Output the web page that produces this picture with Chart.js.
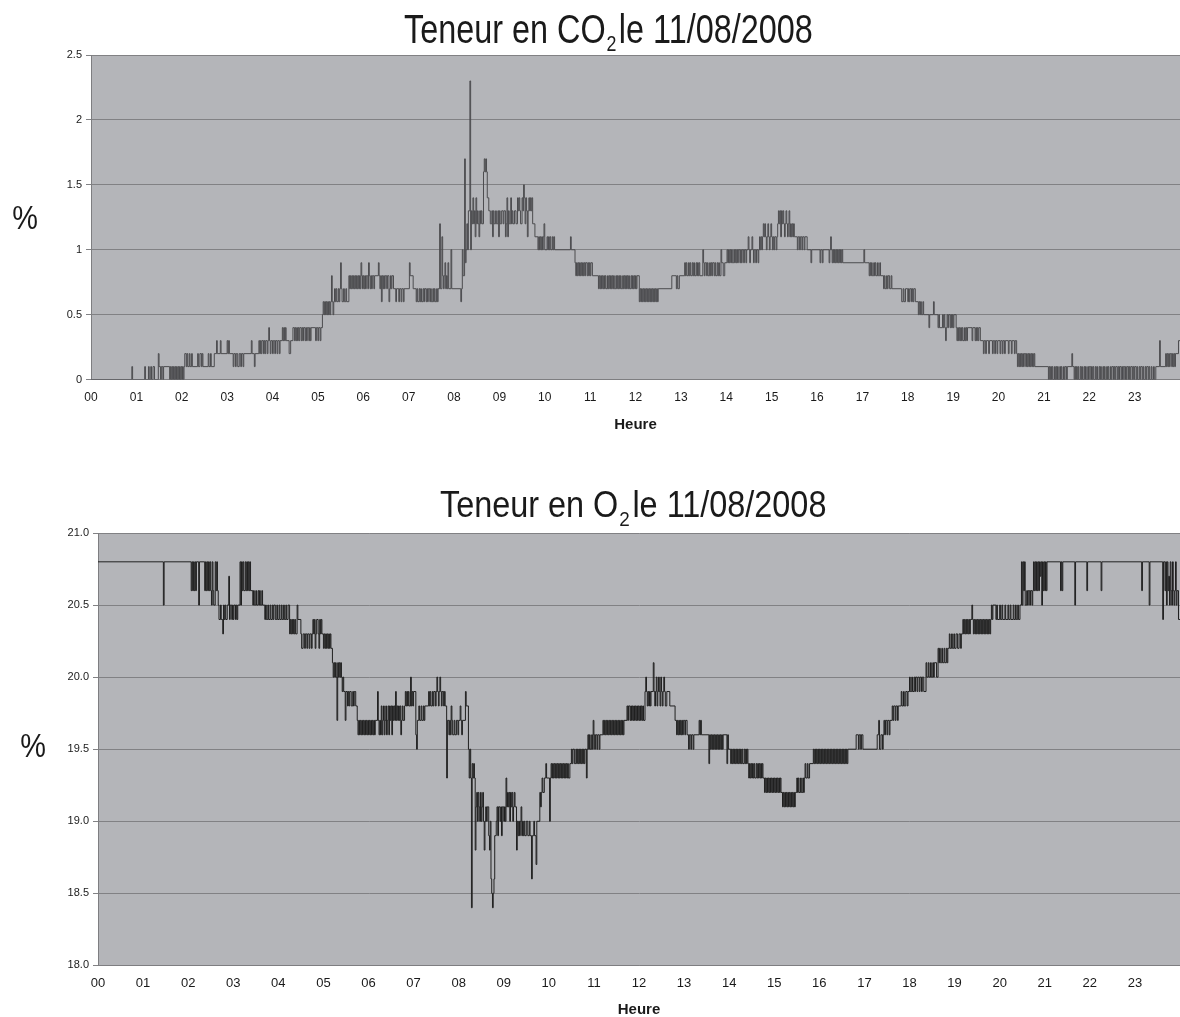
<!DOCTYPE html>
<html>
<head>
<meta charset="utf-8">
<script src="https://cdn.jsdelivr.net/npm/chart.js@4.4.1/dist/chart.umd.min.js"></script>
<style>
html,body{margin:0;padding:0;background:#ffffff;width:1180px;height:1017px;overflow:hidden;}
#w1{position:absolute;left:0;top:0;width:1180px;height:450px;}
#w2{position:absolute;left:0;top:450px;width:1180px;height:570px;}
</style>
</head>
<body>
<div id="w1"><canvas id="c1"></canvas></div>
<div id="w2"><canvas id="c2"></canvas></div>
<script>
// ---- tick labels ----
const hourLabels = ['00','01','02','03','04','05','06','07','08','09','10','11','12','13','14','15','16','17','18','19','20','21','22','23'];
const co2TickValues = [0, 0.5, 1, 1.5, 2, 2.5];
const co2TickLabels = ['0', '0.5', '1', '1.5', '2', '2.5'];
const o2TickValues = [18, 18.5, 19, 19.5, 20, 20.5, 21];
const o2TickLabels = ['18.0', '18.5', '19.0', '19.5', '20.0', '20.5', '21.0'];

// ---- readings: [minute of the day, value %] (value holds until next reading) ----
const co2Readings = [[0,0],[54,0.1],[55,0],[71,0.1],[72,0],[76,0.1],[77,0],[79,0.1],[80,0],[82,0.1],[84,0],[89,0.2],[90,0.1],[92,0],[93,0.1],[95,0],[96,0.1],[104,0],[105,0.1],[106,0],[107,0.1],[108,0],[109,0.1],[110,0],[111,0.1],[112,0],[113,0.1],[114,0],[115,0.1],[116,0],[117,0.1],[118,0],[119,0.1],[120,0],[121,0.1],[122,0],[123,0.1],[124,0.2],[126,0.1],[127,0.2],[128,0.1],[130,0.2],[131,0.1],[133,0.2],[134,0.1],[141,0.2],[142,0.1],[144,0.2],[146,0.1],[147,0.2],[148,0.1],[155,0.2],[156,0.1],[158,0.2],[159,0.1],[163,0.2],[166,0.3],[167,0.2],[171,0.3],[172,0.2],[180,0.3],[181,0.2],[182,0.3],[183,0.2],[188,0.1],[189,0.2],[191,0.1],[192,0.2],[194,0.1],[196,0.2],[198,0.1],[199,0.2],[201,0.1],[202,0.2],[212,0.3],[213,0.2],[216,0.1],[217,0.2],[222,0.3],[223,0.2],[224,0.3],[225,0.2],[226,0.3],[228,0.2],[229,0.3],[230,0.2],[231,0.3],[233,0.2],[234,0.3],[235,0.4],[236,0.3],[237,0.2],[238,0.3],[240,0.2],[241,0.3],[243,0.2],[244,0.3],[246,0.2],[247,0.3],[249,0.2],[250,0.3],[253,0.4],[254,0.3],[255,0.4],[256,0.3],[257,0.4],[258,0.3],[262,0.2],[264,0.3],[267,0.4],[269,0.3],[270,0.4],[271,0.3],[272,0.4],[273,0.3],[274,0.4],[275,0.3],[276,0.4],[278,0.3],[279,0.4],[280,0.3],[281,0.4],[283,0.3],[284,0.4],[285,0.3],[286,0.4],[288,0.3],[289,0.4],[290,0.3],[291,0.4],[297,0.3],[298,0.4],[300,0.3],[301,0.4],[303,0.3],[304,0.4],[306,0.5],[307,0.6],[308,0.5],[309,0.6],[310,0.5],[311,0.6],[312,0.5],[313,0.6],[314,0.5],[315,0.6],[316,0.5],[317,0.6],[318,0.8],[319,0.6],[320,0.5],[321,0.6],[322,0.7],[323,0.6],[324,0.7],[325,0.6],[327,0.7],[328,0.6],[329,0.7],[330,0.9],[331,0.7],[332,0.6],[334,0.7],[335,0.6],[337,0.7],[338,0.6],[341,0.8],[342,0.7],[343,0.8],[344,0.7],[345,0.8],[346,0.7],[347,0.8],[348,0.7],[349,0.8],[350,0.7],[351,0.8],[352,0.7],[353,0.8],[354,0.7],[355,0.8],[356,0.7],[357,0.9],[358,0.8],[359,0.7],[360,0.8],[361,0.7],[362,0.8],[363,0.7],[364,0.8],[366,0.7],[367,0.9],[368,0.8],[369,0.7],[370,0.8],[371,0.7],[372,0.8],[374,0.7],[375,0.8],[380,0.9],[381,0.8],[382,0.7],[383,0.8],[384,0.6],[385,0.8],[386,0.7],[387,0.8],[388,0.7],[389,0.8],[391,0.7],[392,0.8],[394,0.6],[395,0.7],[396,0.8],[397,0.7],[398,0.8],[400,0.7],[403,0.6],[404,0.7],[407,0.6],[408,0.7],[410,0.6],[411,0.7],[413,0.6],[414,0.7],[421,0.9],[422,0.8],[426,0.7],[430,0.6],[431,0.7],[432,0.6],[434,0.7],[435,0.6],[436,0.7],[437,0.6],[439,0.7],[440,0.6],[441,0.7],[443,0.6],[444,0.7],[445,0.6],[446,0.7],[448,0.6],[449,0.7],[450,0.6],[452,0.7],[453,0.6],[454,0.7],[455,0.6],[457,0.7],[458,0.6],[459,0.7],[461,1.2],[462,0.7],[464,1.1],[465,0.8],[466,0.7],[467,0.8],[468,0.9],[469,0.7],[470,0.8],[471,0.7],[472,0.9],[473,0.7],[476,1.0],[477,0.7],[489,0.6],[490,0.7],[491,1.0],[492,0.8],[494,1.7],[495,0.9],[496,1.0],[497,1.2],[498,1.0],[499,1.3],[501,2.3],[502,1.0],[503,1.3],[504,1.2],[505,1.4],[506,1.2],[507,1.3],[508,1.1],[509,1.4],[510,1.2],[511,1.3],[512,1.2],[513,1.1],[514,1.3],[515,1.2],[516,1.3],[517,1.2],[519,1.6],[520,1.7],[521,1.6],[522,1.7],[523,1.6],[524,1.4],[526,1.3],[528,1.2],[530,1.3],[531,1.1],[532,1.3],[533,1.2],[535,1.3],[536,1.2],[538,1.3],[539,1.1],[540,1.3],[541,1.2],[543,1.3],[545,1.2],[546,1.3],[548,1.1],[549,1.2],[550,1.4],[551,1.1],[552,1.3],[553,1.2],[555,1.4],[556,1.2],[557,1.3],[558,1.2],[560,1.3],[562,1.2],[564,1.4],[565,1.3],[566,1.4],[567,1.3],[568,1.2],[570,1.4],[571,1.3],[572,1.5],[573,1.4],[574,1.2],[575,1.4],[576,1.3],[577,1.1],[578,1.3],[579,1.4],[580,1.3],[581,1.4],[582,1.3],[583,1.4],[584,1.2],[587,1.1],[591,1.0],[592,1.1],[593,1.0],[594,1.1],[595,1.0],[596,1.1],[597,1.0],[598,1.1],[599,1.2],[600,1.0],[603,1.1],[604,1.0],[605,1.1],[606,1.0],[607,1.1],[608,1.0],[610,1.1],[611,1.0],[612,1.1],[613,1.0],[634,1.1],[635,1.0],[640,0.9],[641,0.8],[642,0.9],[643,0.8],[644,0.9],[645,0.8],[646,0.9],[647,0.8],[648,0.9],[649,0.8],[650,0.9],[651,0.8],[652,0.9],[653,0.8],[654,0.9],[656,0.8],[657,0.9],[658,0.8],[659,0.9],[660,0.8],[661,0.9],[663,0.8],[671,0.7],[672,0.8],[673,0.7],[674,0.8],[675,0.7],[676,0.8],[677,0.7],[678,0.8],[679,0.7],[680,0.8],[681,0.7],[683,0.8],[684,0.7],[685,0.8],[686,0.7],[687,0.8],[688,0.7],[689,0.8],[690,0.7],[691,0.8],[692,0.7],[694,0.8],[695,0.7],[696,0.8],[697,0.7],[698,0.8],[699,0.7],[700,0.8],[701,0.7],[703,0.8],[704,0.7],[705,0.8],[706,0.7],[707,0.8],[708,0.7],[709,0.8],[710,0.7],[711,0.8],[712,0.7],[714,0.8],[715,0.7],[716,0.8],[717,0.7],[718,0.8],[719,0.7],[720,0.8],[721,0.7],[722,0.8],[725,0.6],[726,0.7],[727,0.6],[728,0.7],[729,0.6],[730,0.7],[731,0.6],[732,0.7],[733,0.6],[734,0.7],[735,0.6],[736,0.7],[737,0.6],[738,0.7],[739,0.6],[740,0.7],[741,0.6],[742,0.7],[743,0.6],[744,0.7],[745,0.6],[746,0.7],[747,0.6],[748,0.7],[749,0.6],[750,0.7],[768,0.8],[774,0.7],[775,0.8],[776,0.7],[778,0.8],[785,0.9],[786,0.8],[787,0.9],[788,0.8],[790,0.9],[791,0.8],[792,0.9],[793,0.8],[795,0.9],[796,0.8],[797,0.9],[798,0.8],[800,0.9],[801,0.8],[802,0.9],[803,0.8],[804,0.9],[805,0.8],[809,1.0],[810,0.9],[811,0.8],[812,0.9],[814,0.8],[815,0.9],[816,0.8],[818,0.9],[819,0.8],[820,0.9],[821,0.8],[822,0.9],[824,0.8],[825,0.9],[826,0.8],[828,0.9],[829,0.8],[830,0.9],[831,0.8],[833,1.0],[834,0.9],[836,0.8],[838,0.9],[841,1.0],[842,0.9],[843,1.0],[844,0.9],[845,1.0],[846,0.9],[847,1.0],[848,0.9],[850,1.0],[851,0.9],[852,1.0],[853,0.9],[854,1.0],[855,0.9],[856,1.0],[858,0.9],[859,1.0],[860,0.9],[861,1.0],[863,0.9],[864,1.0],[866,0.9],[867,1.0],[869,1.1],[870,1.0],[871,0.9],[872,1.0],[874,1.1],[875,1.0],[876,0.9],[877,1.0],[879,0.9],[880,1.0],[882,0.9],[883,1.0],[884,1.1],[885,1.0],[886,1.1],[887,1.0],[888,1.1],[889,1.2],[890,1.1],[891,1.2],[892,1.1],[893,1.0],[894,1.1],[895,1.2],[896,1.1],[897,1.0],[898,1.1],[899,1.2],[900,1.1],[901,1.0],[902,1.1],[903,1.0],[904,1.1],[906,1.0],[907,1.1],[908,1.2],[909,1.3],[910,1.2],[911,1.3],[912,1.1],[913,1.3],[914,1.2],[915,1.3],[916,1.2],[917,1.1],[918,1.2],[919,1.3],[920,1.2],[921,1.1],[922,1.2],[923,1.3],[924,1.1],[925,1.2],[926,1.1],[927,1.2],[928,1.1],[929,1.2],[930,1.1],[934,1.0],[935,1.1],[937,1.0],[938,1.1],[940,1.0],[941,1.1],[943,1.0],[944,1.1],[947,1.0],[952,0.9],[953,1.0],[964,0.9],[965,1.0],[967,0.9],[968,1.0],[976,0.9],[977,1.0],[978,1.1],[979,1.0],[980,0.9],[981,1.0],[982,0.9],[983,1.0],[984,0.9],[985,1.0],[986,0.9],[987,1.0],[988,0.9],[989,1.0],[990,0.9],[991,1.0],[992,0.9],[993,1.0],[994,0.9],[1022,1.0],[1023,0.9],[1029,0.8],[1030,0.9],[1031,0.8],[1032,0.9],[1033,0.8],[1035,0.9],[1036,0.8],[1037,0.9],[1038,0.8],[1040,0.9],[1041,0.8],[1043,0.9],[1044,0.8],[1048,0.7],[1049,0.8],[1050,0.7],[1052,0.8],[1053,0.7],[1054,0.8],[1056,0.7],[1058,0.8],[1059,0.7],[1072,0.6],[1074,0.7],[1075,0.6],[1077,0.7],[1080,0.6],[1081,0.7],[1082,0.6],[1083,0.7],[1085,0.6],[1086,0.7],[1087,0.6],[1088,0.7],[1090,0.6],[1094,0.5],[1095,0.6],[1096,0.5],[1097,0.6],[1098,0.5],[1100,0.6],[1101,0.5],[1108,0.4],[1109,0.5],[1114,0.6],[1115,0.5],[1120,0.4],[1121,0.5],[1122,0.4],[1126,0.5],[1127,0.4],[1128,0.5],[1129,0.4],[1130,0.3],[1131,0.4],[1132,0.5],[1133,0.4],[1134,0.5],[1136,0.4],[1137,0.5],[1138,0.4],[1139,0.5],[1140,0.4],[1141,0.5],[1144,0.4],[1145,0.3],[1146,0.4],[1147,0.3],[1148,0.4],[1149,0.3],[1150,0.4],[1151,0.3],[1152,0.4],[1153,0.3],[1155,0.4],[1156,0.3],[1157,0.4],[1158,0.3],[1159,0.4],[1165,0.3],[1166,0.4],[1169,0.3],[1170,0.4],[1171,0.3],[1172,0.4],[1173,0.3],[1174,0.4],[1176,0.3],[1180,0.2],[1181,0.3],[1183,0.2],[1184,0.3],[1187,0.2],[1188,0.3],[1192,0.2],[1193,0.3],[1195,0.2],[1196,0.3],[1198,0.2],[1199,0.3],[1202,0.2],[1203,0.3],[1205,0.2],[1206,0.3],[1208,0.2],[1209,0.3],[1213,0.2],[1214,0.3],[1217,0.2],[1218,0.3],[1221,0.2],[1222,0.3],[1224,0.2],[1225,0.1],[1226,0.2],[1227,0.1],[1228,0.2],[1229,0.1],[1230,0.2],[1231,0.1],[1232,0.2],[1233,0.1],[1234,0.2],[1236,0.1],[1237,0.2],[1238,0.1],[1239,0.2],[1240,0.1],[1241,0.2],[1242,0.1],[1243,0.2],[1244,0.1],[1245,0.2],[1246,0.1],[1247,0.2],[1248,0.1],[1266,0],[1267,0.1],[1268,0],[1269,0.1],[1270,0],[1271,0.1],[1272,0],[1274,0.1],[1275,0],[1276,0.1],[1277,0],[1278,0.1],[1279,0],[1281,0.1],[1282,0],[1283,0.1],[1284,0],[1286,0.1],[1287,0],[1288,0.1],[1290,0],[1291,0.1],[1297,0.2],[1298,0.1],[1300,0],[1301,0.1],[1302,0],[1303,0.1],[1304,0],[1305,0.1],[1306,0],[1308,0.1],[1309,0],[1310,0.1],[1311,0],[1313,0.1],[1314,0],[1315,0.1],[1316,0],[1318,0.1],[1319,0],[1320,0.1],[1322,0],[1323,0.1],[1324,0],[1325,0.1],[1326,0],[1328,0.1],[1329,0],[1330,0.1],[1331,0],[1333,0.1],[1334,0],[1335,0.1],[1336,0],[1338,0.1],[1339,0],[1340,0.1],[1341,0],[1343,0.1],[1344,0],[1345,0.1],[1346,0],[1348,0.1],[1349,0],[1350,0.1],[1352,0],[1353,0.1],[1354,0],[1355,0.1],[1357,0],[1358,0.1],[1359,0],[1360,0.1],[1362,0],[1363,0.1],[1364,0],[1365,0.1],[1367,0],[1368,0.1],[1369,0],[1370,0.1],[1372,0],[1373,0.1],[1374,0],[1375,0.1],[1377,0],[1378,0.1],[1379,0],[1380,0.1],[1382,0],[1383,0.1],[1384,0],[1386,0.1],[1387,0],[1388,0.1],[1390,0],[1391,0.1],[1392,0],[1394,0.1],[1395,0],[1396,0.1],[1398,0],[1399,0.1],[1400,0],[1402,0.1],[1403,0],[1405,0.1],[1406,0],[1408,0.1],[1413,0.3],[1414,0.1],[1421,0.2],[1422,0.1],[1423,0.2],[1424,0.1],[1425,0.2],[1426,0.1],[1427,0.2],[1429,0.1],[1430,0.2],[1431,0.1],[1432,0.2],[1433,0.1],[1434,0.2],[1438,0.3],[1440,0.3]];

const o2Readings = [[0,20.8],[87,20.5],[88,20.8],[124,20.6],[125,20.8],[126,20.6],[127,20.8],[128,20.6],[129,20.8],[130,20.6],[131,20.8],[134,20.5],[135,20.8],[142,20.6],[143,20.8],[144,20.6],[145,20.8],[146,20.6],[147,20.8],[148,20.6],[149,20.8],[150,20.6],[151,20.5],[152,20.8],[153,20.6],[154,20.5],[156,20.8],[157,20.6],[158,20.8],[159,20.6],[160,20.5],[161,20.4],[163,20.5],[164,20.4],[166,20.3],[167,20.5],[168,20.4],[169,20.5],[170,20.4],[172,20.5],[174,20.7],[175,20.4],[176,20.5],[178,20.4],[179,20.5],[180,20.4],[181,20.5],[183,20.4],[184,20.5],[185,20.4],[186,20.5],[189,20.8],[190,20.5],[191,20.8],[192,20.6],[193,20.8],[194,20.6],[196,20.8],[197,20.6],[198,20.8],[199,20.6],[200,20.8],[201,20.6],[202,20.8],[203,20.6],[206,20.5],[207,20.6],[208,20.5],[210,20.6],[211,20.5],[213,20.6],[214,20.5],[215,20.6],[216,20.5],[218,20.6],[219,20.5],[222,20.4],[223,20.5],[224,20.4],[226,20.5],[227,20.4],[229,20.5],[230,20.4],[232,20.5],[233,20.4],[234,20.5],[236,20.4],[238,20.5],[239,20.4],[241,20.5],[242,20.4],[244,20.5],[245,20.4],[247,20.5],[248,20.4],[250,20.5],[251,20.4],[253,20.5],[255,20.3],[256,20.4],[257,20.3],[258,20.4],[259,20.3],[260,20.4],[261,20.3],[262,20.4],[263,20.3],[265,20.5],[266,20.4],[270,20.3],[271,20.2],[273,20.3],[275,20.2],[276,20.3],[278,20.2],[279,20.3],[281,20.2],[282,20.3],[284,20.2],[285,20.3],[286,20.4],[287,20.3],[288,20.4],[289,20.2],[290,20.3],[291,20.4],[293,20.3],[294,20.2],[295,20.4],[296,20.3],[297,20.4],[298,20.3],[300,20.2],[301,20.3],[302,20.2],[303,20.3],[304,20.2],[305,20.3],[306,20.2],[307,20.3],[308,20.2],[309,20.3],[310,20.2],[312,20.1],[313,20.0],[314,20.1],[315,20.0],[316,20.1],[317,20.0],[318,19.7],[319,20.1],[320,20.0],[321,20.1],[322,20.0],[323,20.1],[324,20.0],[325,19.9],[326,20.0],[327,19.9],[329,19.7],[330,19.9],[332,19.8],[333,19.9],[334,19.8],[335,19.9],[337,19.8],[339,19.9],[340,19.8],[341,19.9],[343,19.8],[345,19.7],[346,19.6],[347,19.7],[348,19.6],[349,19.7],[350,19.6],[351,19.7],[352,19.6],[353,19.7],[354,19.6],[355,19.7],[356,19.6],[357,19.7],[358,19.6],[359,19.7],[360,19.6],[361,19.7],[362,19.6],[363,19.7],[364,19.6],[365,19.7],[366,19.6],[367,19.7],[368,19.6],[369,19.7],[372,19.9],[373,19.7],[374,19.6],[375,19.7],[376,19.6],[377,19.8],[378,19.6],[379,19.7],[380,19.8],[381,19.6],[382,19.7],[383,19.8],[384,19.6],[385,19.7],[386,19.8],[387,19.6],[388,19.8],[389,19.7],[390,19.8],[391,19.6],[392,19.8],[393,19.7],[394,19.8],[395,19.7],[396,19.9],[397,19.7],[398,19.8],[399,19.7],[400,19.8],[401,19.7],[402,19.8],[403,19.6],[404,19.7],[405,19.8],[406,19.7],[408,19.8],[409,19.9],[410,19.8],[411,19.9],[412,19.8],[413,19.9],[414,19.8],[416,20.0],[417,19.8],[418,19.9],[419,19.8],[420,19.9],[423,19.6],[424,19.5],[425,19.7],[427,19.8],[428,19.7],[430,19.8],[431,19.7],[433,19.8],[434,19.7],[435,19.8],[440,19.9],[441,19.8],[442,19.9],[443,19.8],[445,19.9],[446,19.8],[447,19.9],[449,19.8],[450,19.9],[451,20.0],[452,19.9],[453,19.8],[454,19.9],[455,20.0],[456,19.9],[457,19.8],[458,19.9],[460,19.8],[461,19.9],[462,19.8],[464,19.3],[465,19.7],[467,19.6],[468,19.7],[469,19.6],[470,19.8],[471,19.7],[472,19.6],[474,19.7],[475,19.6],[477,19.7],[479,19.6],[480,19.7],[482,19.8],[483,19.7],[484,19.6],[485,19.7],[489,19.9],[490,19.8],[493,19.5],[494,19.3],[495,19.5],[496,19.3],[497,18.4],[498,19.4],[499,19.3],[500,19.4],[501,19.3],[502,18.8],[503,19.1],[504,19.2],[505,19.0],[506,19.2],[507,19.1],[508,19.0],[509,19.2],[510,19.0],[511,19.1],[512,19.2],[513,19.0],[514,18.8],[515,19.0],[516,19.1],[517,19.0],[518,19.1],[520,18.9],[521,18.8],[522,19.0],[523,18.6],[524,18.5],[525,18.4],[526,18.5],[527,18.6],[528,18.9],[530,19.0],[531,19.1],[532,18.9],[533,19.1],[535,19.0],[536,19.1],[537,18.9],[538,19.1],[540,19.0],[541,19.1],[542,19.0],[543,19.3],[544,19.1],[545,19.2],[546,19.1],[547,19.2],[548,19.0],[549,19.2],[550,19.1],[551,19.2],[552,19.0],[553,19.1],[554,19.2],[555,19.1],[557,18.8],[558,19.0],[559,18.9],[560,19.0],[561,18.9],[562,19.0],[563,19.1],[564,18.9],[565,19.0],[566,18.9],[567,19.0],[568,18.9],[570,19.0],[572,18.9],[574,19.0],[575,18.9],[577,18.6],[578,18.9],[580,19.0],[581,18.9],[583,18.7],[584,19.0],[588,19.2],[589,19.1],[590,19.2],[591,19.3],[592,19.2],[594,19.3],[596,19.4],[597,19.3],[601,19.0],[602,19.3],[603,19.4],[604,19.3],[605,19.4],[606,19.3],[607,19.4],[608,19.3],[609,19.4],[610,19.3],[611,19.4],[612,19.3],[613,19.4],[614,19.3],[615,19.4],[616,19.3],[617,19.4],[618,19.3],[619,19.4],[620,19.3],[621,19.4],[622,19.3],[623,19.4],[624,19.3],[625,19.4],[626,19.3],[628,19.4],[630,19.5],[631,19.4],[632,19.5],[634,19.4],[636,19.5],[637,19.4],[638,19.5],[639,19.4],[640,19.5],[641,19.4],[642,19.5],[643,19.4],[644,19.5],[645,19.4],[646,19.5],[647,19.4],[648,19.5],[650,19.3],[651,19.5],[652,19.6],[653,19.5],[654,19.6],[655,19.5],[657,19.6],[658,19.5],[659,19.7],[660,19.6],[661,19.5],[662,19.6],[664,19.5],[665,19.6],[667,19.5],[668,19.6],[672,19.7],[673,19.6],[674,19.7],[675,19.6],[676,19.7],[677,19.6],[678,19.7],[679,19.6],[680,19.7],[681,19.6],[682,19.7],[683,19.6],[684,19.7],[685,19.6],[686,19.7],[687,19.6],[688,19.7],[689,19.6],[690,19.7],[691,19.6],[692,19.7],[693,19.6],[694,19.7],[695,19.6],[696,19.7],[697,19.6],[698,19.7],[699,19.6],[700,19.7],[704,19.8],[705,19.7],[706,19.8],[708,19.7],[709,19.8],[710,19.7],[711,19.8],[712,19.7],[713,19.8],[714,19.7],[715,19.8],[716,19.7],[717,19.8],[718,19.7],[719,19.8],[720,19.7],[721,19.8],[722,19.7],[723,19.8],[724,19.7],[725,19.8],[726,19.7],[728,19.9],[729,20.0],[730,19.9],[731,19.8],[732,19.9],[733,19.8],[734,19.9],[735,19.8],[736,19.9],[739,20.1],[740,19.9],[741,19.8],[742,19.9],[743,20.0],[744,19.8],[745,19.9],[746,20.0],[747,19.9],[748,19.8],[749,20.0],[750,19.9],[751,19.8],[752,19.9],[753,20.0],[754,19.9],[755,19.8],[757,19.9],[761,19.8],[768,19.7],[770,19.6],[771,19.7],[772,19.6],[773,19.7],[774,19.6],[775,19.7],[776,19.6],[777,19.7],[778,19.6],[779,19.7],[781,19.6],[782,19.7],[784,19.6],[786,19.5],[787,19.6],[789,19.5],[790,19.6],[792,19.5],[793,19.6],[800,19.7],[801,19.6],[802,19.7],[803,19.6],[813,19.4],[814,19.6],[815,19.5],[816,19.6],[817,19.5],[818,19.6],[819,19.5],[820,19.6],[821,19.5],[822,19.6],[823,19.5],[824,19.6],[825,19.5],[826,19.6],[827,19.5],[828,19.6],[829,19.5],[830,19.6],[831,19.5],[832,19.6],[837,19.4],[838,19.6],[839,19.5],[842,19.4],[843,19.5],[844,19.4],[845,19.5],[846,19.4],[847,19.5],[848,19.4],[849,19.5],[850,19.4],[851,19.5],[852,19.4],[853,19.5],[854,19.4],[855,19.5],[856,19.4],[857,19.5],[858,19.4],[860,19.5],[861,19.4],[862,19.5],[863,19.4],[864,19.5],[865,19.4],[866,19.3],[867,19.4],[868,19.3],[869,19.4],[870,19.3],[871,19.4],[872,19.3],[873,19.4],[874,19.3],[876,19.4],[877,19.3],[878,19.4],[879,19.3],[880,19.4],[881,19.3],[882,19.4],[883,19.3],[884,19.4],[885,19.3],[887,19.2],[888,19.3],[889,19.2],[890,19.3],[891,19.2],[892,19.3],[893,19.2],[894,19.3],[895,19.2],[896,19.3],[897,19.2],[898,19.3],[899,19.2],[900,19.3],[901,19.2],[902,19.3],[903,19.2],[904,19.3],[905,19.2],[906,19.3],[907,19.2],[908,19.3],[909,19.2],[911,19.1],[912,19.2],[913,19.1],[914,19.2],[915,19.1],[916,19.2],[917,19.1],[918,19.2],[919,19.1],[920,19.2],[921,19.1],[922,19.2],[923,19.1],[924,19.2],[925,19.1],[926,19.2],[927,19.1],[928,19.2],[930,19.3],[931,19.2],[932,19.3],[933,19.2],[935,19.3],[936,19.2],[938,19.3],[939,19.2],[940,19.3],[941,19.4],[942,19.3],[944,19.4],[945,19.3],[947,19.4],[952,19.5],[953,19.4],[954,19.5],[955,19.4],[956,19.5],[957,19.4],[958,19.5],[959,19.4],[960,19.5],[961,19.4],[962,19.5],[963,19.4],[964,19.5],[965,19.4],[966,19.5],[967,19.4],[968,19.5],[969,19.4],[970,19.5],[971,19.4],[972,19.5],[973,19.4],[974,19.5],[975,19.4],[976,19.5],[977,19.4],[978,19.5],[979,19.4],[980,19.5],[981,19.4],[982,19.5],[983,19.4],[984,19.5],[985,19.4],[986,19.5],[987,19.4],[988,19.5],[989,19.4],[990,19.5],[991,19.4],[992,19.5],[993,19.4],[994,19.5],[995,19.4],[996,19.5],[997,19.4],[998,19.5],[1009,19.6],[1012,19.5],[1013,19.6],[1015,19.5],[1016,19.6],[1018,19.5],[1037,19.6],[1039,19.7],[1040,19.5],[1042,19.6],[1044,19.5],[1045,19.6],[1046,19.7],[1047,19.6],[1048,19.7],[1050,19.6],[1051,19.7],[1053,19.6],[1054,19.7],[1057,19.8],[1058,19.7],[1059,19.8],[1061,19.7],[1062,19.8],[1064,19.7],[1065,19.8],[1069,19.9],[1070,19.8],[1072,19.9],[1073,19.8],[1075,19.9],[1077,19.8],[1078,19.9],[1080,20.0],[1081,19.9],[1083,20.0],[1084,19.9],[1086,20.0],[1087,19.9],[1088,20.0],[1090,19.9],[1091,20.0],[1093,19.9],[1094,20.0],[1096,19.9],[1097,20.0],[1099,19.9],[1102,20.1],[1103,20.0],[1105,20.1],[1106,20.0],[1108,20.1],[1109,20.0],[1111,20.1],[1112,20.0],[1113,20.1],[1116,20.0],[1118,20.2],[1119,20.1],[1120,20.2],[1121,20.1],[1123,20.2],[1124,20.1],[1126,20.2],[1127,20.1],[1129,20.2],[1130,20.1],[1131,20.2],[1133,20.3],[1134,20.2],[1136,20.3],[1137,20.2],[1139,20.3],[1140,20.2],[1142,20.3],[1144,20.2],[1146,20.3],[1148,20.2],[1149,20.3],[1151,20.4],[1152,20.3],[1153,20.4],[1154,20.3],[1155,20.4],[1156,20.3],[1157,20.4],[1158,20.3],[1159,20.4],[1160,20.3],[1161,20.4],[1163,20.5],[1164,20.4],[1165,20.3],[1166,20.4],[1167,20.3],[1168,20.4],[1169,20.3],[1170,20.4],[1171,20.3],[1172,20.4],[1173,20.3],[1174,20.4],[1175,20.3],[1176,20.4],[1177,20.3],[1178,20.4],[1179,20.3],[1180,20.4],[1181,20.3],[1182,20.4],[1183,20.3],[1184,20.4],[1185,20.3],[1186,20.4],[1187,20.3],[1188,20.4],[1189,20.5],[1190,20.4],[1191,20.5],[1195,20.4],[1196,20.5],[1197,20.4],[1200,20.5],[1201,20.4],[1203,20.5],[1204,20.4],[1207,20.5],[1208,20.4],[1211,20.5],[1212,20.4],[1214,20.5],[1215,20.4],[1218,20.5],[1219,20.4],[1221,20.5],[1222,20.4],[1224,20.5],[1225,20.4],[1227,20.5],[1229,20.8],[1230,20.5],[1231,20.8],[1232,20.6],[1233,20.8],[1234,20.5],[1236,20.6],[1237,20.5],[1238,20.6],[1240,20.5],[1241,20.6],[1243,20.5],[1244,20.6],[1245,20.8],[1246,20.6],[1247,20.8],[1248,20.6],[1249,20.8],[1250,20.6],[1251,20.8],[1252,20.6],[1253,20.8],[1254,20.7],[1255,20.8],[1256,20.5],[1257,20.8],[1258,20.6],[1259,20.8],[1260,20.6],[1261,20.8],[1262,20.6],[1263,20.8],[1281,20.6],[1282,20.8],[1283,20.6],[1284,20.8],[1300,20.5],[1301,20.8],[1316,20.6],[1317,20.8],[1335,20.6],[1336,20.8],[1389,20.6],[1390,20.8],[1399,20.5],[1400,20.8],[1417,20.4],[1418,20.8],[1420,20.6],[1421,20.8],[1422,20.5],[1423,20.8],[1424,20.6],[1425,20.7],[1426,20.5],[1427,20.8],[1428,20.6],[1429,20.5],[1430,20.8],[1431,20.6],[1432,20.5],[1433,20.6],[1434,20.8],[1435,20.5],[1436,20.6],[1438,20.4],[1440,20.4]];

// ---- shared styling ----
const FONT = '"Liberation Sans", Arial, Helvetica, sans-serif';
Chart.defaults.font.family = FONT;
Chart.defaults.color = '#1a1a1a';

const plotBg = {
  id: 'plotBg',
  beforeDraw(chart, args, o) {
    const {ctx, chartArea: a} = chart;
    ctx.save();
    ctx.fillStyle = o.color;
    ctx.fillRect(a.left, a.top, a.right - a.left, a.bottom - a.top);
    ctx.restore();
  }
};

const richText = {
  id: 'richText',
  afterDraw(chart, args, o) {
    const ctx = chart.ctx;
    ctx.save();
    ctx.fillStyle = '#1a1a1a';
    ctx.textBaseline = 'alphabetic';
    ctx.textAlign = 'left';
    ctx.translate(o.titleX, o.titleY);
    ctx.scale(o.titleScale, 1);
    const main = o.titleSize + 'px ' + FONT;
    const sub = o.subSize + 'px ' + FONT;
    let x = 0;
    ctx.font = main;
    ctx.fillText(o.title[0], x, 0);
    x += ctx.measureText(o.title[0]).width + 1;
    ctx.font = sub;
    ctx.fillText(o.title[1], x, o.subDrop);
    x += ctx.measureText(o.title[1]).width + 3;
    ctx.font = main;
    ctx.fillText(o.title[2], x, 0);
    ctx.restore();

    ctx.save();
    ctx.fillStyle = '#1a1a1a';
    ctx.textAlign = 'center';
    ctx.textBaseline = 'middle';
    ctx.translate(o.unitX, o.unitY);
    ctx.scale(o.unitScale, 1);
    ctx.font = o.unitSize + 'px ' + FONT;
    ctx.fillText(o.unit, 0, 0);
    ctx.restore();
  }
};

function buildChart(canvasId, readings, c) {
  return new Chart(document.getElementById(canvasId), {
    type: 'line',
    data: {
      datasets: [{
        data: readings.map(r => ({x: r[0], y: r[1]})),
        stepped: true,
        borderColor: c.lineColor,
        borderWidth: c.lineWidth,
        pointRadius: 0,
        fill: false
      }]
    },
    options: {
      responsive: true,
      maintainAspectRatio: false,
      animation: false,
      events: [],
      layout: {padding: {top: c.padTop, right: 0, bottom: 0, left: 0}},
      plugins: {
        legend: {display: false},
        tooltip: {enabled: false},
        title: {display: false},
        plotBg: {color: '#b4b5b9'},
        richText: c.text
      },
      scales: {
        x: {
          type: 'linear',
          min: 0,
          max: 1440,
          afterBuildTicks: s => { s.ticks = hourLabels.map((_, i) => ({value: i * 60})); },
          ticks: {
            autoSkip: false,
            maxRotation: 0,
            padding: c.xPad,
            color: '#1a1a1a',
            font: {size: c.xFont},
            callback: (v, i) => hourLabels[i]
          },
          grid: {display: false, drawTicks: false},
          border: {display: true, color: '#7e7e81', width: 1},
          title: {
            display: true,
            text: 'Heure',
            color: '#1a1a1a',
            font: {size: 15, weight: 'bold'},
            padding: {top: c.hTop, bottom: c.hBottom}
          }
        },
        y: {
          min: c.yMin,
          max: c.yMax,
          afterBuildTicks: s => { s.ticks = c.yValues.map(v => ({value: v})); },
          afterFit: s => { s.width = c.yWidth; },
          ticks: {
            padding: 4,
            color: '#1a1a1a',
            font: {size: 11},
            callback: (v, i) => c.yLabels[i]
          },
          grid: {color: '#818184', lineWidth: 1, drawTicks: true, tickLength: 5},
          border: {display: true, color: '#7e7e81', width: 1}
        }
      }
    },
    plugins: [plotBg, richText]
  });
}

buildChart('c1', co2Readings, {
  lineColor: '#4c4c4f', lineWidth: 1,
  padTop: 55, xPad: 11, xFont: 12, hTop: 0, hBottom: 16,
  yMin: 0, yMax: 2.5, yValues: co2TickValues, yLabels: co2TickLabels, yWidth: 91,
  text: {
    title: ['Teneur en CO', '2', 'le 11/08/2008'],
    titleX: 404, titleY: 43, titleSize: 40, subSize: 22, subDrop: 8, titleScale: 0.81,
    unit: '%', unitX: 25, unitY: 220, unitSize: 34, unitScale: 0.85
  }
});

buildChart('c2', o2Readings, {
  lineColor: '#202020', lineWidth: 1,
  padTop: 83, xPad: 10, xFont: 13, hTop: 0, hBottom: 1,
  yMin: 18, yMax: 21, yValues: o2TickValues, yLabels: o2TickLabels, yWidth: 98,
  text: {
    title: ['Teneur en O', '2', 'le 11/08/2008'],
    titleX: 440, titleY: 67, titleSize: 36, subSize: 21, subDrop: 9, titleScale: 0.9,
    unit: '%', unitX: 33, unitY: 298, unitSize: 34, unitScale: 0.85
  }
});
</script>
</body>
</html>
